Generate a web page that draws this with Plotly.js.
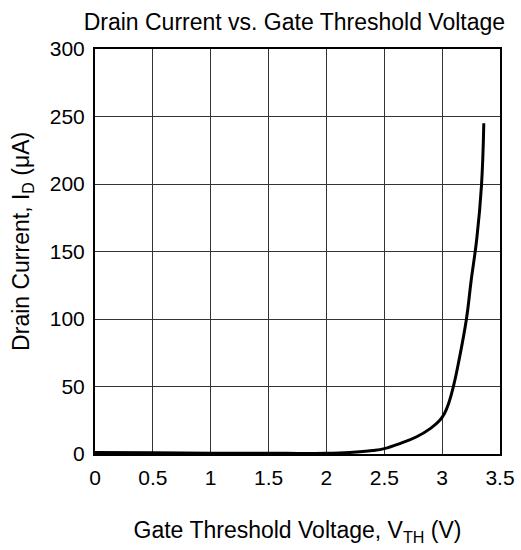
<!DOCTYPE html>
<html><head><meta charset="utf-8">
<script src="https://cdn.plot.ly/plotly-3.0.1.min.js"></script>
<style>body{margin:0;background:#fff}#c{width:521px;height:550px}</style>
</head><body><div id="c"></div>
<script>
const vth = [0, 0.5, 1, 1.5, 2, 2.2, 2.4, 2.5, 2.64, 2.78, 2.9, 2.98, 3.02, 3.06, 3.1, 3.14, 3.21, 3.25, 3.3, 3.34, 3.36];
const idrain = [1.2, 0.9, 0.6, 0.5, 0.6, 1.2, 2.6, 4, 7.9, 12.8, 19, 25, 30, 38.5, 51, 67, 100, 128, 160, 199, 245];
const xTicks = [0, 0.5, 1, 1.5, 2, 2.5, 3, 3.5];
const xTickText = ['0', '0.5', '1', '1.5', '2', '2.5', '3', '3.5'];
const yTicks = [0, 50, 100, 150, 200, 250, 300];
const yTitle = 'Drain Current, I<sub>D</sub> (μA)';

const fnt = {family: 'Liberation Sans, Arial, sans-serif', color: '#000'};
const F = (s) => Object.assign({size: s}, fnt);
Plotly.newPlot('c', [{
  x: vth, y: idrain, type: 'scatter', mode: 'lines',
  line: {color: '#000', width: 3, shape: 'spline', smoothing: 1.2},
  hoverinfo: 'skip'
}], {
  width: 521, height: 550,
  margin: {l: 95, r: 21, t: 49, b: 96},
  paper_bgcolor: '#fff', plot_bgcolor: '#fff',
  showlegend: false,
  font: F(22),
  title: {text: 'Drain Current vs. Gate Threshold Voltage', font: F(23),
          x: 0.565, xanchor: 'center', y: 0.96, yanchor: 'middle'},
  xaxis: {
    range: [0, 3.5], tickvals: xTicks, ticktext: xTickText,
    ticks: 'outside', ticklen: 4, tickcolor: 'rgba(0,0,0,0)',
    showgrid: true, gridcolor: '#333', gridwidth: 1, zeroline: false,
    showline: true, linecolor: '#000', linewidth: 2, mirror: true,
    tickfont: F(21),
    title: {text: 'Gate Threshold Voltage, V<sub>TH</sub> (V)', font: F(23), standoff: 34}
  },
  yaxis: {
    range: [0, 300], tickvals: yTicks,
    ticks: 'outside', ticklen: 4, tickcolor: 'rgba(0,0,0,0)',
    showgrid: true, gridcolor: '#333', gridwidth: 1, zeroline: false,
    showline: true, linecolor: '#000', linewidth: 2, mirror: true,
    tickfont: F(21)
  },
  annotations: [{
    text: yTitle, xref: 'paper', yref: 'paper', x: -0.178, y: 0.526,
    xanchor: 'center', yanchor: 'middle', textangle: -90, showarrow: false, font: F(23)
  }]
}, {staticPlot: true, displayModeBar: false});
</script></body></html>
